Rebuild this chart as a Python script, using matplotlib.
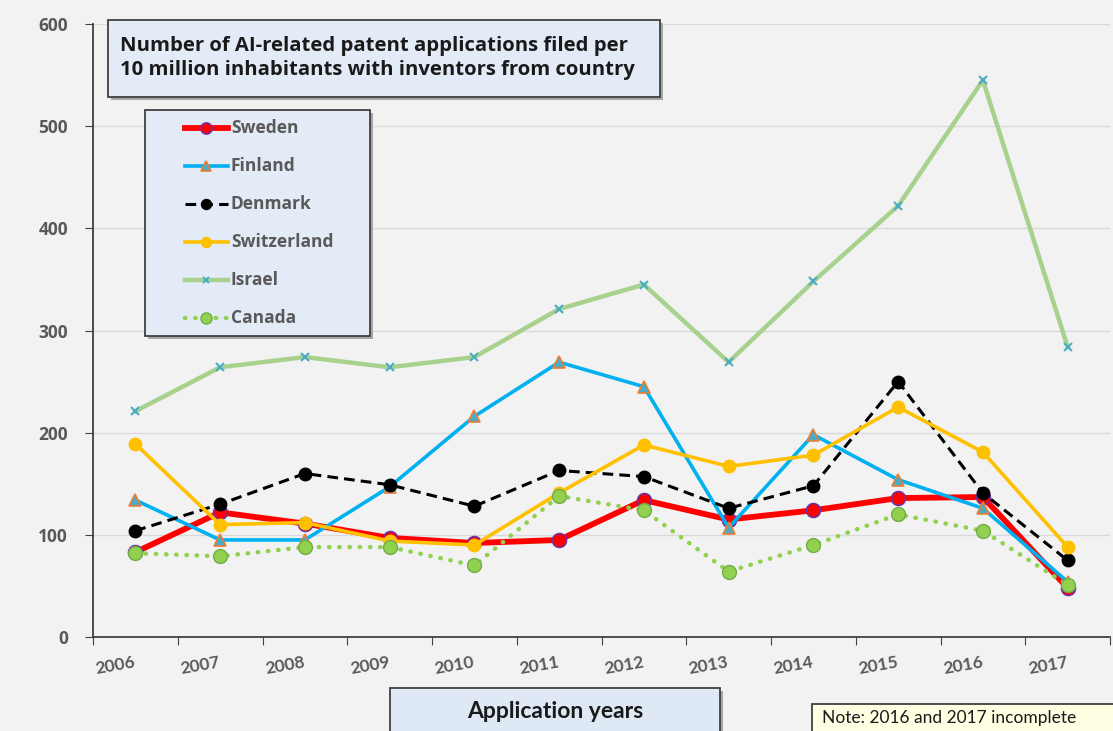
import numpy as np
import matplotlib.pyplot as plt
from matplotlib.patches import Rectangle
from matplotlib.lines import Line2D

W, H = 1113, 731

years = ["2006", "2007", "2008", "2009", "2010", "2011",
         "2012", "2013", "2014", "2015", "2016", "2017"]
sweden = [83, 122, 111, 97, 92, 95, 134, 115, 124, 136, 137, 48]
finland = [134, 95, 95, 147, 216, 269, 245, 107, 198, 154, 126, 54]
denmark = [104, 130, 160, 149, 128, 163, 157, 126, 148, 250, 141, 75]
switzerland = [189, 110, 112, 94, 90, 141, 188, 167, 178, 225, 181, 88]
israel = [221, 264, 274, 264, 274, 321, 345, 269, 348, 422, 545, 284]
canada = [82, 79, 88, 88, 70, 138, 124, 64, 90, 120, 104, 51]

series = [
    ("Sweden", sweden, dict(color="#ff0000", lw=4.2, ls="-", marker="o", ms=10,
                            mfc="#ff0000", mec="#7030a0", mew=1.2)),
    ("Finland", finland, dict(color="#00b0f0", lw=2.6, ls="-", marker="^", ms=8.5,
                              mfc="#4bacc6", mec="#ed7d31", mew=1.2)),
    ("Denmark", denmark, dict(color="black", lw=2.2, ls=(0, (3.5, 2)), marker="o", ms=9,
                              mfc="black", mec="black", mew=1)),
    ("Switzerland", switzerland, dict(color="#ffc000", lw=2.6, ls="-", marker="o", ms=9,
                                      mfc="#ffc000", mec="#ffc000", mew=1)),
    ("Israel", israel, dict(color="#a9d18e", lw=3.2, ls="-", marker="x", ms=6,
                            mfc="#4bacc6", mec="#4bacc6", mew=1.5)),
    ("Canada", canada, dict(color="#92d050", lw=3.2, ls=(0, (0.1, 2.2)), marker="o", ms=10,
                            mfc="#92d050", mec="#70ad47", mew=1, dash_capstyle="round")),
]

bg = "#f2f2f2"
fig = plt.figure(figsize=(W / 100, H / 100), dpi=100, facecolor=bg)


def fx(x):
    return x / W


def fy(y):
    return 1 - y / H


ax = fig.add_axes([fx(93), fy(637), fx(1110) - fx(93), fy(24) - fy(637)])
ax.set_facecolor(bg)

x = np.arange(len(years))
for name, vals, st in series:
    ax.plot(x, vals, **st, zorder=3)

ax.set_xlim(-0.5, len(years) - 0.5)
ax.set_ylim(0, 600)
ax.set_yticks(range(0, 601, 100))
ax.yaxis.grid(True, color="#d9d9d9", lw=1)
ax.set_axisbelow(True)
for s in ["top", "right"]:
    ax.spines[s].set_visible(False)
for s in ["left", "bottom"]:
    ax.spines[s].set_color("#404040")
    ax.spines[s].set_linewidth(1.3)

ax.set_xticks(np.arange(-0.5, len(years)), labels=[])
ax.set_xticks(x, labels=years, minor=True)
ax.tick_params(axis="x", which="major", length=6, direction="out", color="#404040")
ax.tick_params(axis="x", which="minor", length=0, pad=18)
for lab in ax.get_xticklabels(minor=True):
    lab.set_rotation(10)
    lab.set_rotation_mode("anchor")
    lab.set_ha("right")
    lab.set_va("center")
    lab.set_fontfamily("Lato")
    lab.set_fontsize(12.5)
    lab.set_fontweight("bold")
    lab.set_color("#595959")
ax.tick_params(axis="y", length=6, direction="out", color="#404040", pad=12,
               labelsize=12.5, labelcolor="#595959")
for lab in ax.get_yticklabels():
    lab.set_fontweight("bold")
    lab.set_fontfamily("Open Sans")


def box(x0, y0, x1, y1, fc, shadow=True, lw=1.3):
    if shadow:
        fig.add_artist(Rectangle((fx(x0 + 3), fy(y1 + 3)), fx(x1 - x0), fy(y0) - fy(y1),
                                 transform=fig.transFigure, fc="#a6a6a6", ec="none", zorder=5))
    fig.add_artist(Rectangle((fx(x0), fy(y1)), fx(x1 - x0), fy(y0) - fy(y1),
                             transform=fig.transFigure, fc=fc, ec="#404040", lw=lw, zorder=6))


# title box
box(108, 20, 660, 97, "#e3ebf7")
fig.text(fx(120), fy(58), "Number of AI-related patent applications filed per\n"
         "10 million inhabitants with inventors from country",
         fontsize=14.6, fontweight="bold", family="Open Sans", color="#1a1a1a",
         va="center", ha="left", linespacing=1.3, zorder=7)

# legend box
box(145, 110, 370, 336, "#e3ebf7")
for i, (name, vals, st) in enumerate(series):
    yy = 128 + i * 38
    fig.add_artist(Line2D([fx(185), fx(228)], [fy(yy), fy(yy)], transform=fig.transFigure,
                          zorder=7,
                          **{k: v for k, v in st.items() if k not in ("marker", "ms", "mfc", "mec", "mew")}))
    fig.add_artist(Line2D([fx(206.5)], [fy(yy)], transform=fig.transFigure, ls="none",
                          marker=st["marker"], ms=st["ms"] * 0.8, mfc=st["mfc"], mec=st["mec"],
                          mew=st["mew"], zorder=8))
    fig.text(fx(231), fy(yy), name, fontsize=12.5, fontweight="bold", family="Open Sans",
             color="#595959", va="center", ha="left", zorder=8)

# x axis title box
box(390, 688, 720, 740, "#dfe8f5")
fig.text(fx(555), fy(711), "Application years", fontsize=16.5, fontweight="bold",
         family="Lato", color="#1a1a1a", ha="center", va="center", zorder=7)

# note box
box(812, 704, 1120, 740, "#ffffe3", shadow=False)
fig.text(fx(822), fy(718), "Note: 2016 and 2017 incomplete", fontsize=12.5,
         family="Lato", color="#1a1a1a", ha="left", va="center", zorder=7)

fig.savefig("out.png", dpi=100, facecolor=bg)
